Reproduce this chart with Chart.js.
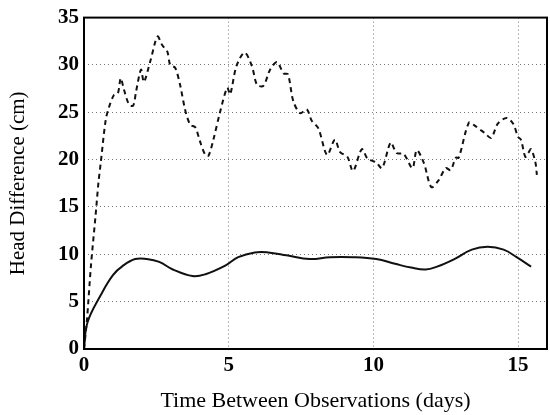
<!DOCTYPE html>
<html>
<head>
<meta charset="utf-8">
<script src="https://cdn.jsdelivr.net/npm/chart.js@4"></script>
<style>
  html, body { margin: 0; padding: 0; background: #fff; }
  #wrap { width: 550px; height: 415px; }
</style>
</head>
<body>
<div id="wrap"><canvas id="headChart" width="550" height="415"></canvas></div>
<script>
// tick labels
var xTicks = [0, 5, 10, 15];
var yTicks = [0, 5, 10, 15, 20, 25, 30, 35];

// solid curve (smoothed)
var solidX = [0, 0.12, 0.58, 1.0, 1.35, 1.77, 2.17, 2.6, 3.07, 3.75, 4.2, 4.88, 5.33, 5.9, 6.36, 7.0, 7.8, 8.5, 9.3, 10.1, 10.75, 11.3, 11.8, 12.2, 12.8, 13.4, 13.95, 14.5, 14.95, 15.45];
var solidY = [0, 2.8, 5.7, 7.8, 8.8, 9.5, 9.5, 9.2, 8.4, 7.7, 7.9, 8.8, 9.7, 10.2, 10.2, 9.9, 9.5, 9.7, 9.7, 9.5, 9.0, 8.6, 8.4, 8.7, 9.5, 10.5, 10.8, 10.5, 9.7, 8.7];

// dashed curve (raw)
var dashX = [0, 0.1, 0.24, 0.4, 0.5, 0.58, 0.75, 0.86, 1.03, 1.17, 1.27, 1.38, 1.56, 1.7, 1.8, 1.97, 2.07, 2.3, 2.54, 2.7, 2.88, 2.98, 3.15, 3.32, 3.5, 3.67, 3.85, 4.0, 4.19, 4.3, 4.47, 4.7, 4.95, 5.05, 5.27, 5.55, 5.8, 5.98, 6.2, 6.43, 6.67, 6.9, 7.05, 7.23, 7.47, 7.7, 7.87, 8.1, 8.4, 8.67, 8.85, 9.1, 9.3, 9.6, 9.8, 10.1, 10.3, 10.6, 10.8, 11.05, 11.35, 11.5, 11.75, 12.0, 12.25, 12.5, 12.67, 12.85, 12.95, 13.3, 13.5, 13.85, 14.07, 14.3, 14.6, 14.83, 15.0, 15.1, 15.25, 15.35, 15.45, 15.6, 15.65];
var dashY = [0, 3, 8.8, 14.1, 17.6, 19.7, 24.2, 25.5, 26.8, 27, 28.6, 27.4, 25.8, 25.7, 27.2, 29.5, 28.2, 30.5, 33.0, 32.1, 31.4, 30, 29.7, 27.9, 25.2, 23.7, 23.4, 22, 20.5, 20.4, 22.1, 25, 27.6, 26.9, 29.9, 31.3, 29.9, 27.9, 27.8, 29.5, 30.3, 29.1, 29, 26.2, 24.9, 25.3, 24.1, 23.3, 20.5, 22.1, 20.8, 20.3, 18.8, 21.1, 20.1, 19.7, 19.1, 21.8, 20.7, 20.6, 19.1, 21, 19.6, 17.1, 17.8, 19.1, 18.9, 20.2, 20.2, 23.9, 23.6, 22.8, 22.3, 23.8, 24.4, 23.8, 22.4, 22.1, 20.3, 20.7, 21.1, 19.7, 18.4];

function toPoints(xs, ys) {
    return xs.map(function (x, i) { return { x: x, y: ys[i] }; });
}

var serif = "'Liberation Serif', 'Times New Roman', serif";

// draws the closed frame round the plot area
var frame = {
    id: 'frame',
    afterDraw: function (chart) {
        var a = chart.chartArea, ctx = chart.ctx;
        ctx.save();
        ctx.strokeStyle = '#000';
        ctx.lineWidth = 2;
        ctx.strokeRect(a.left, a.top, a.right - a.left, a.bottom - a.top);
        ctx.restore();
    }
};

var headCtx = document.getElementById('headChart').getContext('2d');
var headChart = new Chart(headCtx, {
    type: 'scatter',
    data: {
        datasets: [{
            data: toPoints(dashX, dashY),
            showLine: true,
            borderColor: '#111',
            borderWidth: 2,
            borderDash: [5, 4],
            pointRadius: 0,
            tension: 0.3
        }, {
            data: toPoints(solidX, solidY),
            showLine: true,
            borderColor: '#111',
            borderWidth: 2,
            pointRadius: 0,
            tension: 0.4
        }]
    },
    options: {
        responsive: false,
        animation: false,
        layout: { padding: { top: 16, right: 3, left: 0, bottom: 0 } },
        plugins: { legend: { display: false }, tooltip: { enabled: false } },
        scales: {
            x: {
                type: 'linear',
                min: 0,
                max: 16,
                afterBuildTicks: function (s) { s.ticks = xTicks.map(function (v) { return { value: v }; }); },
                afterFit: function (s) { s.height = 66; },
                grid: { color: '#777', lineWidth: 1, drawTicks: false },
                border: { display: false, dash: [1, 3] },
                ticks: { color: '#000', padding: 4, maxRotation: 0, font: { family: serif, size: 21, weight: 'bold' } },
                title: { display: true, text: 'Time Between Observations (days)', color: '#000', padding: { top: 6, bottom: 1 }, font: { family: serif, size: 22 } }
            },
            y: {
                min: 0,
                max: 35,
                afterBuildTicks: function (s) { s.ticks = yTicks.map(function (v) { return { value: v }; }); },
                afterFit: function (s) { s.width = 84; },
                grid: { color: '#777', lineWidth: 1, drawTicks: false },
                border: { display: false, dash: [1, 3] },
                ticks: { color: '#000', padding: 5, font: { family: serif, size: 21, weight: 'bold' } },
                title: { display: true, text: 'Head Difference (cm)', color: '#000', padding: { top: 6, bottom: 4 }, font: { family: serif, size: 21 } }
            }
        }
    },
    plugins: [frame]
});
</script>
</body>
</html>
